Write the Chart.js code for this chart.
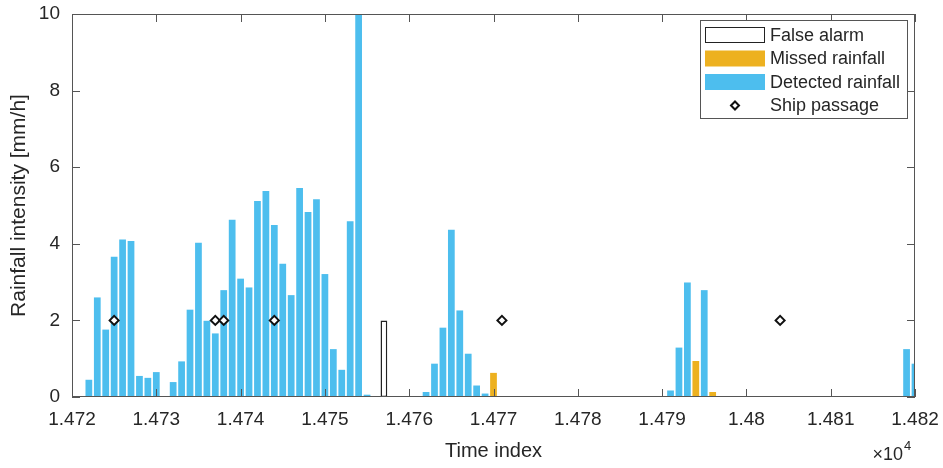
<!DOCTYPE html>
<html><head><meta charset="utf-8">
<script src="https://cdn.jsdelivr.net/npm/chart.js@4/dist/chart.umd.min.js"></script>
<style>html,body{margin:0;padding:0;background:#fff;}canvas{display:block;}</style>
</head><body>
<canvas id="c" width="943" height="468"></canvas>
<script>
// ---- data ----
const detectedTimes = [14722,14723,14724,14725,14726,14727,14728,14729,14730,
  14732,14733,14734,14735,14736,14737,14738,14739,14740,14741,14742,14743,14744,14745,14746,14747,14748,14749,14750,14751,14752,14753,14754,14755,
  14762,14763,14764,14765,14766,14767,14768,14769,
  14791,14792,14793,14795,14819,14820];
const detectedValues = [0.45,2.6,1.76,3.66,4.11,4.07,0.55,0.5,0.65,
  0.39,0.93,2.28,4.03,1.99,1.66,2.79,4.63,3.09,2.86,5.12,5.38,4.49,3.48,2.66,5.46,4.83,5.16,3.21,1.25,0.71,4.59,10,0.06,
  0.13,0.87,1.81,4.37,2.26,1.13,0.30,0.09,
  0.17,1.29,2.99,2.79,1.25,0.87];
const missedTimes = [14770,14794,14796];
const missedValues = [0.63,0.94,0.13];
const falseAlarmTimes = [14757];
const falseAlarmValues = [2.0];
const shipTimes = [14725,14737,14738,14744,14771,14804];
const shipValues = [2,2,2,2,2,2];
const xTickValues = [14720,14730,14740,14750,14760,14770,14780,14790,14800,14810,14820];
const xTickLabels = ['1.472','1.473','1.474','1.475','1.476','1.477','1.478','1.479','1.48','1.481','1.482'];
const yTickValues = [0,2,4,6,8,10];
const yTickLabels = ['0','2','4','6','8','10'];
const seriesLabels = ['False alarm','Missed rainfall','Detected rainfall','Ship passage'];
const xTitle = 'Time index';
const yTitle = 'Rainfall intensity [mm/h]';
const exponentBase = '\u00d710';
const exponentPower = '4';

// ---- styling ----
const TXT = '#262626';
const AX = '#555555';
const BLUE = '#4DBEEE';
const ORANGE = '#EDB120';
Chart.defaults.font.family = '"Liberation Sans", Arial, Helvetica, sans-serif';
Chart.defaults.color = TXT;

const toPts = (xs, ys) => xs.map((x, i) => ({x: x, y: ys[i]}));
const barSet = (label, xs, ys, bg, bc, bw) => ({
  type: 'bar', label: label, data: toPts(xs, ys),
  backgroundColor: bg, borderColor: bc, borderWidth: bw, borderSkipped: false,
  grouped: false, barPercentage: 0.8, categoryPercentage: 1.0, order: 1
});

const boxPlugin = {
  id: 'matlabBox',
  afterDatasetsDraw(chart) {
    const {ctx, chartArea: a, scales} = chart;
    ctx.save();
    ctx.strokeStyle = AX; ctx.lineWidth = 1;
    ctx.strokeRect(a.left + 0.5, a.top + 0.5, a.right - a.left - 1, a.bottom - a.top - 1);
    const tl = 8;
    ctx.beginPath();
    xTickValues.forEach(v => {
      const px = Math.round(scales.x.getPixelForValue(v)) + 0.5;
      ctx.moveTo(px, a.bottom); ctx.lineTo(px, a.bottom - tl);
      ctx.moveTo(px, a.top); ctx.lineTo(px, a.top + tl);
    });
    yTickValues.forEach(v => {
      const py = Math.round(scales.y.getPixelForValue(v)) + 0.5;
      ctx.moveTo(a.left, py); ctx.lineTo(a.left + tl, py);
      ctx.moveTo(a.right, py); ctx.lineTo(a.right - tl, py);
    });
    ctx.stroke();
    ctx.restore();
  },
  afterDraw(chart) {
    const {ctx, chartArea: a} = chart;
    const ff = Chart.defaults.font.family;
    ctx.save();
    // exponent label
    ctx.fillStyle = TXT;
    ctx.textBaseline = 'alphabetic';
    ctx.font = '18px ' + ff;
    ctx.textAlign = 'right';
    ctx.fillText(exponentBase, a.right - 12, a.bottom + 63);
    ctx.font = '13px ' + ff;
    ctx.textAlign = 'left';
    ctx.fillText(exponentPower, a.right - 11, a.bottom + 53);
    // legend
    const lx = a.right - 215, ly = a.top + 6, lw = 207, lh = 98;
    ctx.fillStyle = '#ffffff';
    ctx.fillRect(lx, ly, lw, lh);
    ctx.strokeStyle = AX; ctx.lineWidth = 1;
    ctx.strokeRect(lx + 0.5, ly + 0.5, lw, lh);
    const rows = [15, 38.5, 62, 85.5];
    const ds = chart.data.datasets;
    [0, 1, 2, 3].forEach((di, r) => {
      const d = ds[di];
      const cy = ly + rows[r];
      if (d.type === 'bar') {
        ctx.fillStyle = d.backgroundColor;
        ctx.fillRect(lx + 5, cy - 8, 60, 16);
        if (d.borderWidth > 0) {
          ctx.strokeStyle = d.borderColor; ctx.lineWidth = 1;
          ctx.strokeRect(lx + 5.5, cy - 7.5, 59, 15);
        }
      } else {
        const cx = lx + 35, rr = 4;
        ctx.beginPath();
        ctx.moveTo(cx - rr, cy); ctx.lineTo(cx, cy - rr); ctx.lineTo(cx + rr, cy); ctx.lineTo(cx, cy + rr); ctx.closePath();
        ctx.fillStyle = '#fff'; ctx.fill();
        ctx.strokeStyle = '#111'; ctx.lineWidth = 2; ctx.stroke();
      }
      ctx.fillStyle = TXT;
      ctx.font = '18px ' + ff;
      ctx.textAlign = 'left';
      ctx.textBaseline = 'middle';
      ctx.fillText(d.label, lx + 70, cy + 1);
    });
    ctx.restore();
  }
};

new Chart(document.getElementById('c'), {
  type: 'bar',
  data: {
    datasets: [
      barSet(seriesLabels[0], falseAlarmTimes, falseAlarmValues, '#ffffff', '#222222', 1.5),
      barSet(seriesLabels[1], missedTimes, missedValues, ORANGE, ORANGE, 0),
      barSet(seriesLabels[2], detectedTimes, detectedValues, BLUE, BLUE, 0),
      {
        type: 'scatter', label: seriesLabels[3], data: toPts(shipTimes, shipValues),
        pointStyle: 'rectRot', pointRadius: 4.5, pointBorderWidth: 2,
        borderColor: '#111111', backgroundColor: '#ffffff', showLine: false, order: 0
      }
    ]
  },
  options: {
    responsive: false, animation: false, devicePixelRatio: 1,
    layout: {padding: {left: 0, right: 28, top: 14, bottom: 0}},
    plugins: {legend: {display: false}, tooltip: {enabled: false}},
    scales: {
      x: {
        type: 'linear', min: xTickValues[0], max: xTickValues[xTickValues.length - 1], offset: false,
        grid: {display: false, drawTicks: false, offset: false}, border: {display: false},
        afterBuildTicks: s => { s.ticks = xTickValues.map(v => ({value: v})); },
        ticks: {autoSkip: false, maxRotation: 0, minRotation: 0, padding: 11, color: TXT, font: {size: 19},
          callback: v => xTickLabels[xTickValues.indexOf(v)]},
        title: {display: true, text: xTitle, color: TXT, font: {size: 20}, padding: {top: 0, bottom: 5}},
        afterFit: s => { s.height = 71; s.paddingLeft = 0; s.paddingRight = 0; }
      },
      y: {
        type: 'linear', min: 0, max: 10,
        grid: {display: false, drawTicks: false}, border: {display: false},
        afterBuildTicks: s => { s.ticks = yTickValues.map(v => ({value: v})); },
        ticks: {padding: 12, color: TXT, font: {size: 19},
          callback: v => yTickLabels[yTickValues.indexOf(v)]},
        title: {display: true, text: yTitle, color: TXT, font: {size: 21}, padding: {top: 7, bottom: 0}},
        afterFit: s => { s.width = 72; s.paddingTop = 0; s.paddingBottom = 0; }
      }
    }
  },
  plugins: [boxPlugin]
});
</script>
</body></html>
